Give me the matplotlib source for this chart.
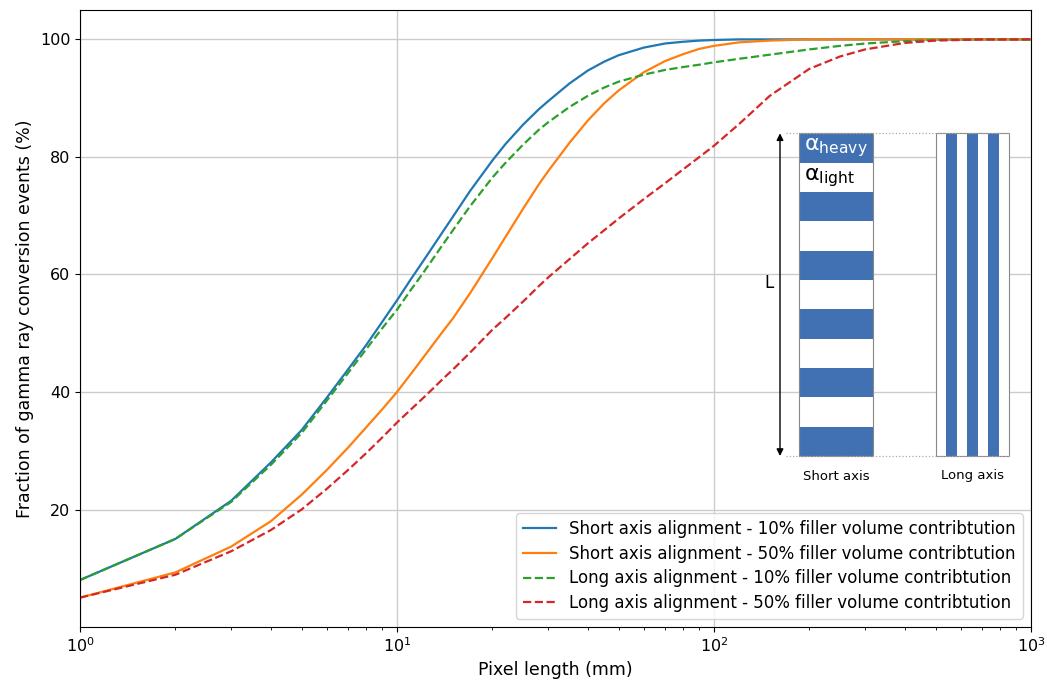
import matplotlib.pyplot as plt
from matplotlib.patches import Rectangle

# Pixellengte (mm) en fractie van conversies (%)
pixel_length = [1, 2, 3, 4, 5, 6, 7, 8, 9, 10, 11, 12, 13, 14, 15, 17, 20, 22, 25, 28, 30,
                35, 40, 45, 50, 60, 70, 80, 90, 100, 120, 150, 200, 250, 300, 400, 500,
                700, 1000]
short_10 = [8.0, 15.0, 21.5, 28.0, 33.5, 39.0, 43.8, 48.0, 52.0, 55.6, 59.0, 62.0, 64.8,
            67.4, 69.8, 74.2, 79.4, 82.2, 85.5, 88.1, 89.5, 92.5, 94.7, 96.2, 97.3, 98.6,
            99.3, 99.6, 99.8, 99.9, 100, 100, 100, 100, 100, 100, 100, 100, 100]
short_50 = [5.0, 9.3, 13.7, 18.0, 22.5, 26.7, 30.5, 34.0, 37.1, 40.0, 42.9, 45.6, 48.1,
            50.4, 52.5, 56.8, 62.8, 66.4, 71.2, 75.3, 77.6, 82.4, 86.2, 89.1, 91.3, 94.4,
            96.3, 97.5, 98.4, 98.9, 99.5, 99.8, 100, 100, 100, 100, 100, 100, 100]
long_10 = [8.0, 15.0, 21.3, 27.6, 33.0, 38.5, 43.2, 47.3, 50.9, 54.0, 57.2, 60.0, 62.7,
           65.2, 67.5, 71.6, 76.5, 79.0, 82.1, 84.6, 85.9, 88.5, 90.4, 91.8, 92.8, 94.0,
           94.8, 95.3, 95.7, 96.1, 96.7, 97.4, 98.3, 98.9, 99.3, 99.7, 99.9, 100, 100]
long_50 = [5.0, 8.9, 12.9, 16.5, 20.0, 23.5, 26.7, 29.6, 32.3, 34.8, 36.9, 38.8, 40.6,
           42.3, 43.8, 46.7, 50.6, 52.6, 55.4, 58.0, 59.5, 62.6, 65.3, 67.5, 69.5, 72.8,
           75.5, 77.9, 80.0, 81.9, 85.6, 90.4, 95.0, 97.1, 98.3, 99.4, 99.8, 100, 100]

labels = ["Short axis alignment - 10% filler volume contribtution",
          "Short axis alignment - 50% filler volume contribtution",
          "Long axis alignment - 10% filler volume contribtution",
          "Long axis alignment - 50% filler volume contribtution"]

# Schema: aantal strepen in de twee oriëntaties
n_short_stripes = 11
n_long_stripes = 7

stripe_blue = '#4271b3'

fig = plt.figure(figsize=(10.47, 6.82), dpi=100)
ax = fig.add_axes([0.0764, 0.0806, 0.9083, 0.9047])

ax.plot(pixel_length, short_10, color='tab:blue', lw=1.6, label=labels[0])
ax.plot(pixel_length, short_50, color='tab:orange', lw=1.6, label=labels[1])
ax.plot(pixel_length, long_10, color='tab:green', lw=1.6, ls='--', label=labels[2])
ax.plot(pixel_length, long_50, color='tab:red', lw=1.6, ls='--', label=labels[3])

ax.set_xscale('log')
ax.set_xlim(1, 1000)
ax.set_ylim(0, 105)
ax.set_yticks([20, 40, 60, 80, 100])
ax.grid(True, which='major', color='#cccccc', lw=1)
ax.tick_params(labelsize=11.5)
ax.set_xlabel("Pixel length (mm)", fontsize=12.5)
ax.set_ylabel("Fraction of gamma ray conversion events (%)", fontsize=12.5)
ax.legend(loc='lower right', fontsize=12, framealpha=0.8, labelspacing=0.4)

# Inzet met de schematische weergave van de strepen
ins = fig.add_axes([775 / 1047, 1 - 456 / 682, 235 / 1047, 322.7 / 682])
ins.set_xlim(0, 235)
ins.set_ylim(0, 322.7)
ins.axis('off')

sx0, sw = 24.3, 73.4
lx0, lw_ = 161, 73.3
h = 322.7

stripe_h = h / n_short_stripes
for i in range(n_short_stripes):
    color = stripe_blue if i % 2 == 0 else 'white'
    ins.add_patch(Rectangle((sx0, h - (i + 1) * stripe_h), sw, stripe_h,
                            facecolor=color, edgecolor='none', clip_on=False))
ins.add_patch(Rectangle((sx0, 0), sw, h, fill=False, edgecolor='#888888', lw=0.8,
                        clip_on=False))

stripe_w = lw_ / n_long_stripes
for i in range(n_long_stripes):
    color = stripe_blue if i % 2 == 1 else 'white'
    ins.add_patch(Rectangle((lx0 + i * stripe_w, 0), stripe_w, h,
                            facecolor=color, edgecolor='none', clip_on=False))
ins.add_patch(Rectangle((lx0, 0), lw_, h, fill=False, edgecolor='#888888', lw=0.8,
                        clip_on=False))

ins.plot([11, lx0 + lw_], [h, h], ls=':', color='#aaaaaa', lw=0.9, clip_on=False)
ins.plot([11, lx0 + lw_], [0, 0], ls=':', color='#aaaaaa', lw=0.9, clip_on=False)
ins.annotate('', xy=(5, h), xytext=(5, 0),
             arrowprops=dict(arrowstyle='<|-|>', color='black', lw=1.0,
                             shrinkA=0, shrinkB=0, mutation_scale=10))
ins.text(-6, 173, 'L', fontsize=12, ha='center', va='center')

ins.text(sx0 + 5, h - stripe_h / 2, r'$\mathregular{α_{heavy}}$', color='white',
         fontsize=16, ha='left', va='center')
ins.text(sx0 + 5, h - 1.5 * stripe_h, r'$\mathregular{α_{light}}$', color='black',
         fontsize=16, ha='left', va='center')

ins.text(sx0 + sw / 2, -20, 'Short axis', fontsize=9.5, ha='center', va='center', clip_on=False)
ins.text(lx0 + lw_ / 2, -20, 'Long axis', fontsize=9.5, ha='center', va='center', clip_on=False)

fig.savefig('out.png', dpi=100)
